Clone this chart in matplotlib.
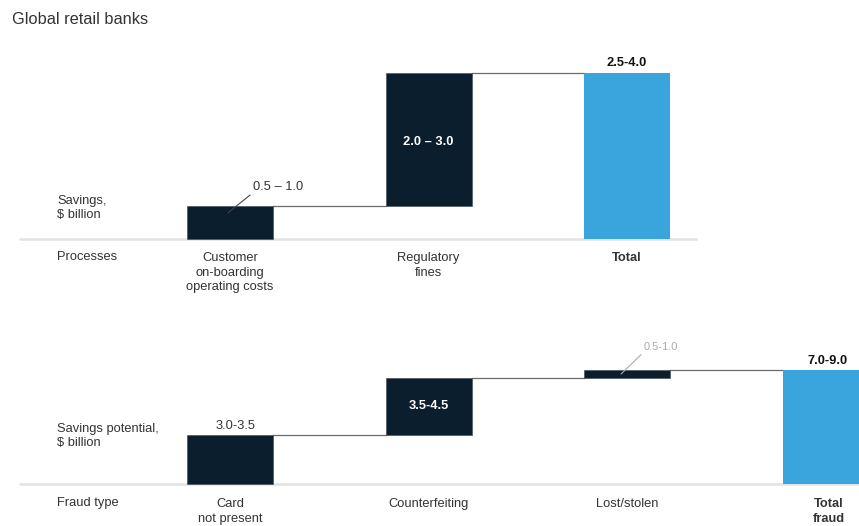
import matplotlib
matplotlib.use("Agg")
import matplotlib.pyplot as plt
import matplotlib.transforms as mtransforms

plt.rcParams['font.family'] = ['Liberation Sans', 'DejaVu Sans']

# ---------------- data ----------------
top_categories = ["Customer\non-boarding\noperating costs", "Regulatory\nfines", "Total"]
top_values = [0.65, 2.60]          # bar heights ($ billion, midpoints)
top_labels = ["0.5 – 1.0", "2.0 – 3.0", "2.5-4.0"]

bot_categories = ["Card\nnot present", "Counterfeiting", "Lost/stolen", "Total\nfraud"]
bot_values = [3.44, 4.00, 0.56]
bot_labels = ["3.0-3.5", "3.5-4.5", "0.5-1.0", "7.0-9.0"]

DARK = "#0b1e2d"
BLUE = "#3aa4dc"
TXT = "#333333"
CONN = "#6b6b6b"
BASE = "#e2e2e2"
FS = 9.3
LS = 1.3

W, H = 859, 526
fig = plt.figure(figsize=(W / 100, H / 100), dpi=100)

step = 198.5
x0px = 230
xlim = (-x0px / step, (W - x0px) / step)
bw = 86 / step


def make_ax(top_px, bot_px, base_px, s):
    ax = fig.add_axes([0, (H - bot_px) / H, 1, (bot_px - top_px) / H])
    ax.set_xlim(*xlim)
    ax.set_ylim(-(bot_px - base_px) / s, (base_px - top_px) / s)
    ax.axis("off")
    return ax


def waterfall(ax, values, total_color, base_end_px):
    cum = 0
    tops = []
    n = len(values)
    for i, v in enumerate(values):
        ax.bar(i, v, bottom=cum, width=bw, color=DARK, edgecolor="#4a5560",
               linewidth=0.5, zorder=3)
        cum += v
        tops.append(cum)
        ax.plot([i + bw / 2, i + 1 - bw / 2], [cum, cum], color=CONN, lw=0.9, zorder=2)
    ax.bar(n, cum, width=bw, color=total_color, zorder=3)
    ax.hlines(0, (19 - x0px) / step, (base_end_px - x0px) / step, color=BASE, lw=1.8, zorder=1)
    return tops, cum


# ---------------- title ----------------
fig.text(12 / W, 1 - 20 / H, "Global retail banks", fontsize=11.8, color=TXT, va="center", ha="left")

# ---------------- top chart ----------------
s1 = 166 / sum(top_values)
ax1 = make_ax(30, 300, 239, s1)
tops1, total1 = waterfall(ax1, top_values, BLUE, 697)
lx1 = mtransforms.blended_transform_factory(fig.transFigure, ax1.transData)

ax1.annotate("Savings,\n$ billion", xy=(57 / W, 0), xycoords=lx1, xytext=(0, 31),
             textcoords="offset pixels", ha="left", va="center", fontsize=FS,
             color=TXT, linespacing=LS)
ax1.annotate("Processes", xy=(57 / W, 0), xycoords=lx1, xytext=(0, -18),
             textcoords="offset pixels", ha="left", va="center", fontsize=FS, color=TXT)
for i, c in enumerate(top_categories):
    ax1.annotate(c, xy=(i, 0), xytext=(0, -13), textcoords="offset pixels",
                 ha="center", va="top", fontsize=FS, color=TXT, linespacing=LS,
                 fontweight="bold" if c == "Total" else "normal")

ax1.annotate(top_labels[0], xy=(-0.01, top_values[0] * 0.79), xytext=(50, 26),
             textcoords="offset pixels", ha="center", va="center", fontsize=FS, color=TXT,
             arrowprops=dict(arrowstyle="-", color="#444444", lw=0.8, shrinkA=0,
                             shrinkB=0, relpos=(0.0, 0.0)))
ax1.text(1, tops1[0] + top_values[1] / 2 - 0.05, top_labels[1], ha="center", va="center",
         fontsize=FS, color="white", fontweight="bold")
ax1.annotate(top_labels[2], xy=(2, total1), xytext=(0, 10), textcoords="offset pixels",
             ha="center", va="center", fontsize=FS, color="#111111", fontweight="bold")

# ---------------- bottom chart ----------------
s2 = 114 / sum(bot_values)
ax2 = make_ax(300, 526, 484, s2)
tops2, total2 = waterfall(ax2, bot_values, BLUE, 880)
lx2 = mtransforms.blended_transform_factory(fig.transFigure, ax2.transData)

ax2.annotate("Savings potential,\n$ billion", xy=(57 / W, 0), xycoords=lx2,
             xytext=(0, 48), textcoords="offset pixels", ha="left", va="center",
             fontsize=FS, color=TXT, linespacing=LS)
ax2.annotate("Fraud type", xy=(57 / W, 0), xycoords=lx2, xytext=(0, -19),
             textcoords="offset pixels", ha="left", va="center", fontsize=FS, color=TXT)
for i, c in enumerate(bot_categories):
    ax2.annotate(c, xy=(i, 0), xytext=(3 if c.startswith("Total") else 0, -14),
                 textcoords="offset pixels", ha="center", va="top", fontsize=FS,
                 color=TXT, linespacing=LS,
                 fontweight="bold" if c.startswith("Total") else "normal")

ax2.annotate(bot_labels[0], xy=(0, tops2[0]), xytext=(6, 9), textcoords="offset pixels",
             ha="center", va="center", fontsize=FS, color=TXT)
ax2.text(1, tops2[0] + bot_values[1] / 2, bot_labels[1], ha="center", va="center",
         fontsize=FS, color="white", fontweight="bold")
ax2.annotate(bot_labels[2], xy=(2 - 0.03, tops2[1] + bot_values[2] * 0.5), xytext=(40, 27),
             textcoords="offset pixels", ha="center", va="center", fontsize=8, color="#aaaaaa",
             arrowprops=dict(arrowstyle="-", color="#aaaaaa", lw=0.8, shrinkA=0,
                             shrinkB=0, relpos=(0.0, 0.0)))
ax2.annotate(bot_labels[3], xy=(3, total2), xytext=(2, 9), textcoords="offset pixels",
             ha="center", va="center", fontsize=FS, color="#111111", fontweight="bold")

fig.savefig("out.png", dpi=100, facecolor="white")
